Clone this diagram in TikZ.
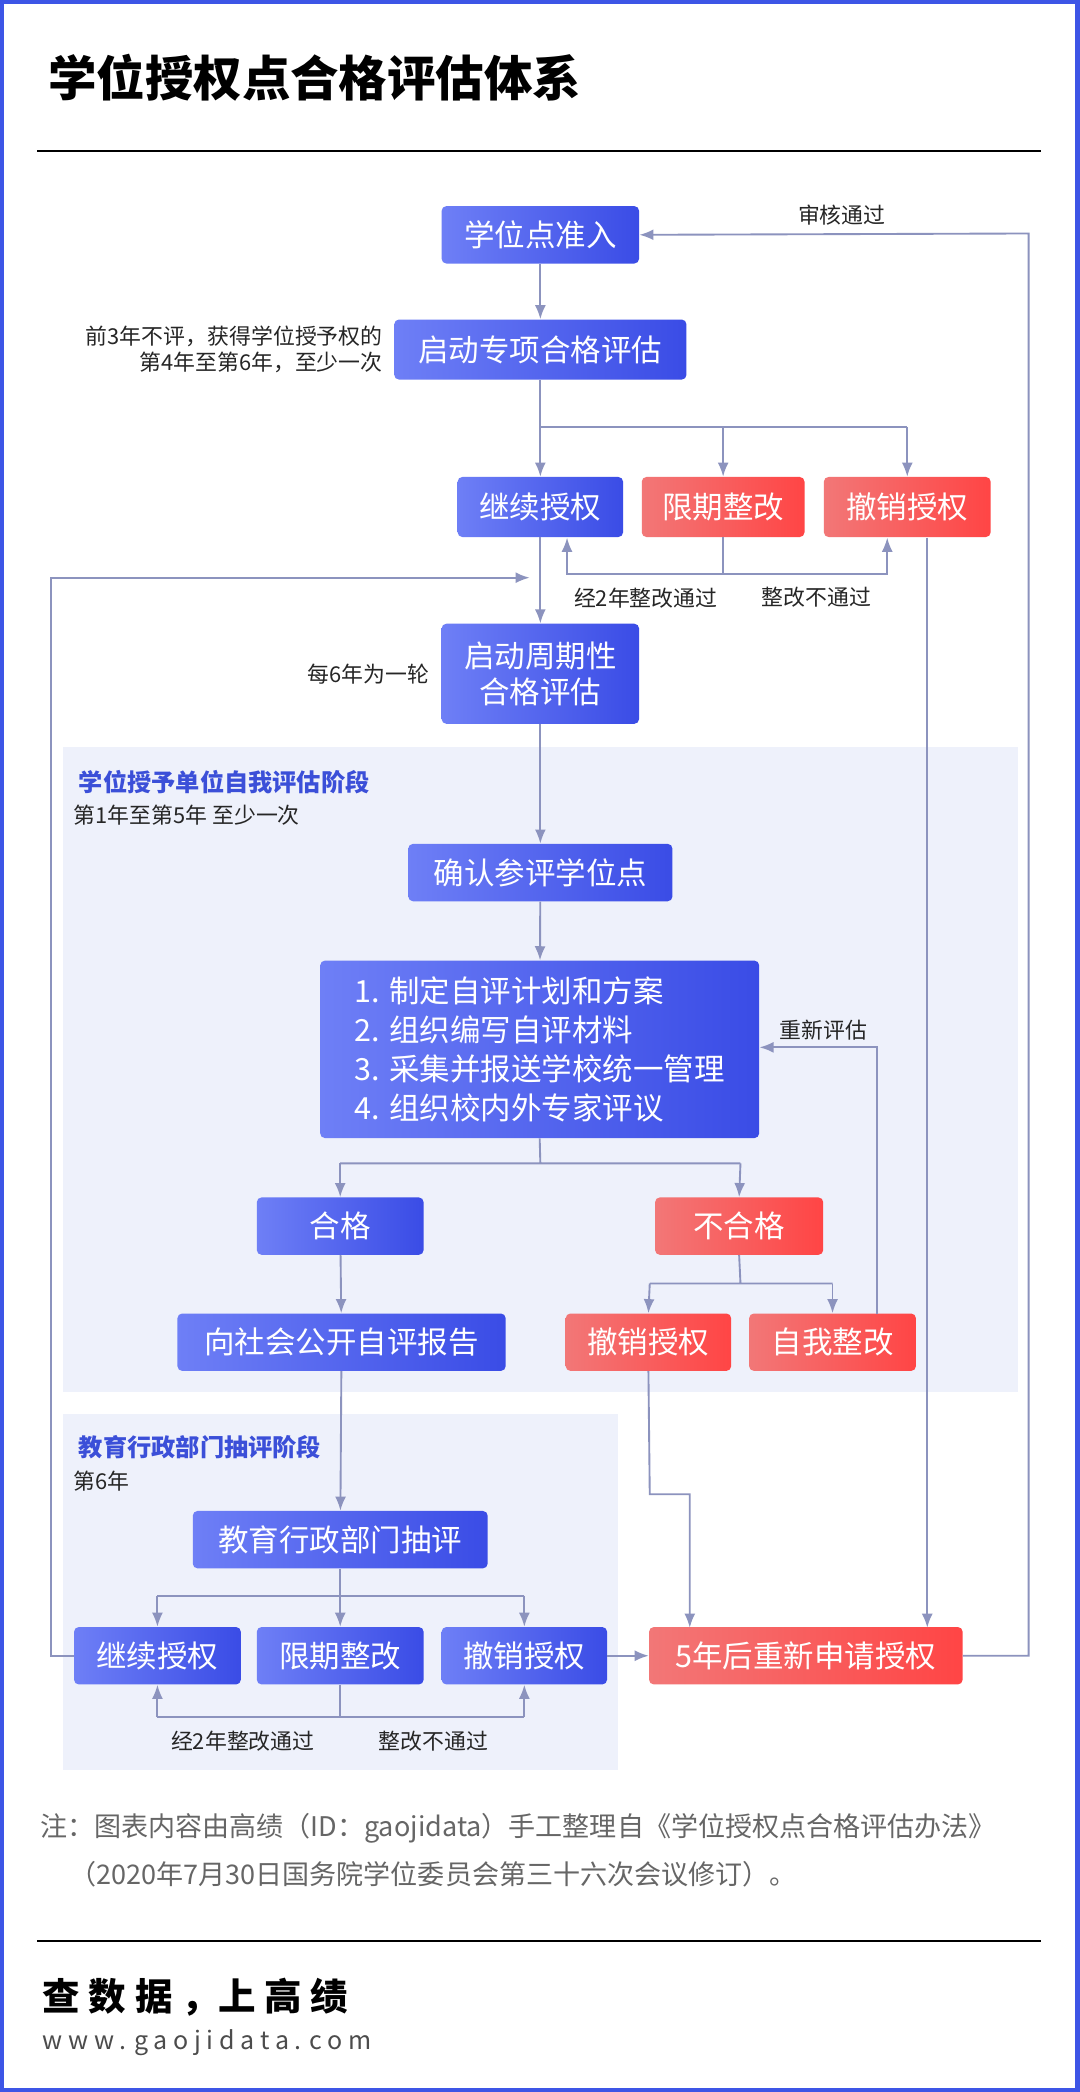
\documentclass[tikz,border=0pt]{standalone}
\usepackage{fontspec}
\setmainfont{Noto Sans CJK SC}
\usetikzlibrary{arrows.meta}
\definecolor{bl1}{HTML}{6E7FF6}\definecolor{bl2}{HTML}{3A4CE6}
\definecolor{rd1}{HTML}{F27777}\definecolor{rd2}{HTML}{FF4545}
\definecolor{ln}{HTML}{8C93BE}\definecolor{reg}{HTML}{EEF1FB}
\definecolor{frm}{HTML}{3D55E6}\definecolor{rt}{HTML}{3B4FD8}
\tikzset{
 bbox/.style={rounded corners=3pt,left color=bl1,right color=bl2,text=white,font=\fontsize{19.5}{23}\selectfont,inner sep=0pt,align=center},
 rbox/.style={rounded corners=3pt,left color=rd1,right color=rd2,text=white,font=\fontsize{19.5}{23}\selectfont,inner sep=0pt,align=center},
 ar/.style={draw=ln,line width=1.2pt,-{Latex[length=9pt,width=7pt]}},
 pl/.style={draw=ln,line width=1.2pt},
 lab/.style={font=\fontsize{14}{17}\selectfont,text=black!85,inner sep=0pt},
}
\newcommand{\bx}[7]{\node[#1,minimum width=#4*0.03cm,minimum height=#5*0.03cm] (#2) at (#3) {#6};}
\begin{document}
\begin{tikzpicture}[x=0.03cm,y=-0.03cm]
\useasboundingbox (0,0) rectangle (809,1568);
\fill[white] (0,0) rectangle (809,1568);
\draw[frm,line width=3pt] (1.5,1.5) rectangle (807.5,1566.5);
\node[anchor=west,font=\fontsize{31}{36}\selectfont\bfseries] (title) at (32,58) {学位授权点合格评估体系};
\draw[line width=1.5pt] (28,113) -- (780,113);
% regions
\fill[reg] (47,560) rectangle (763,1043);
\fill[reg] (47,1060) rectangle (463,1327);
\node[anchor=west,font=\fontsize{15.5}{18}\selectfont\bfseries,text=rt] (r1t) at (55,586) {学位授予单位自我评估阶段};
\node[anchor=west,lab] (r1s) at (55,611) {第1年至第5年 至少一次};
\node[anchor=west,font=\fontsize{15.5}{18}\selectfont\bfseries,text=rt] (r2t) at (55,1085) {教育行政部门抽评阶段};
\node[anchor=west,lab] (r2s) at (55,1110) {第6年};
% boxes
\bx{bbox}{a}{405,176}{148}{43}{学位点准入}{}
\bx{bbox}{b}{405,262}{219}{45}{启动专项合格评估}{}
\bx{bbox}{c1}{405,380}{124}{45}{继续授权}{}
\bx{rbox}{c2}{542,380}{122}{45}{限期整改}{}
\bx{rbox}{c3}{680,380}{125}{45}{撤销授权}{}
\bx{bbox}{d}{405,505}{148}{75}{启动周期性\\合格评估}{}
\bx{bbox}{e}{405,654}{198}{43}{确认参评学位点}{}
\node[bbox,minimum width=329*0.03cm,minimum height=133*0.03cm,align=left,font=\fontsize{19.5}{25}\selectfont] (f) at (404.5,786.5) {1. 制定自评计划和方案\\2. 组织编写自评材料\\3. 采集并报送学校统一管理\\4. 组织校内外专家评议};
\bx{bbox}{g1}{255,919}{125}{43}{合格}{}
\bx{rbox}{g2}{554,919}{126}{43}{不合格}{}
\bx{bbox}{h}{256,1006}{246}{43}{向社会公开自评报告}{}
\bx{rbox}{i1}{486,1006}{124}{43}{撤销授权}{}
\bx{rbox}{i2}{624,1006}{125}{43}{自我整改}{}
\bx{bbox}{j}{255,1154}{221}{43}{教育行政部门抽评}{}
\bx{bbox}{k1}{118,1241}{125}{43}{继续授权}{}
\bx{bbox}{k2}{255,1241}{125}{43}{限期整改}{}
\bx{bbox}{k3}{393,1241}{124}{43}{撤销授权}{}
\bx{rbox}{m}{604,1241}{235}{43}{5年后重新申请授权}{}
% labels
\node[lab,align=right,anchor=east] (l1) at (287,262) {前3年不评，获得学位授予权的\\第4年至第6年，至少一次};
\node[lab] (l2) at (484,448) {经2年整改通过};
\node[lab] (l3) at (612,448) {整改不通过};
\node[lab,anchor=east] (l4) at (322,505) {每6年为一轮};
\node[lab] (l5) at (631,161) {审核通过};
\node[lab] (l6) at (617,772) {重新评估};
\node[lab] (l7) at (182,1305) {经2年整改通过};
\node[lab] (l8) at (325,1305) {整改不通过};
% connectors
\draw[ar] (a) -- (b);
\draw[pl] (b.south) -- (405,320) -- (680,320);
\draw[ar] (405,320) -- (c1.north);
\draw[ar] (542,320) -- (c2.north);
\draw[ar] (680,320) -- (c3.north);
\draw[pl] (c2.south) -- (542,430);
\draw[ar] (542,430) -- (425,430) -- (425,403);
\draw[ar] (542,430) -- (665,430) -- (665,403);
\draw[ar] (c1) -- (d);
\draw[ar] (d) -- (e);
\draw[ar] (e) -- (f);
\draw[pl] (f.south) -- (405,872) (255,872) -- (555,872);
\draw[ar] (255,872) -- (g1.north);
\draw[ar] (555,872) -- (g2.north);
\draw[ar] (g1) -- (h);
\draw[pl] (g2.south) -- (555,962) (487,962) -- (624,962);
\draw[ar] (487,962) -- (i1.north);
\draw[ar] (624,962) -- (i2.north);
\draw[ar] (657,985) -- (657,785) -- (f.east |- 0,785);
\draw[ar] (h) -- (j);
\draw[pl] (j.south) -- (255,1196) (118,1196) -- (393,1196);
\draw[ar] (118,1196) -- (k1.north);
\draw[ar] (255,1196) -- (k2.north);
\draw[ar] (393,1196) -- (k3.north);
\draw[pl] (k2.south) -- (255,1287) (118,1287) -- (393,1287);
\draw[ar] (118,1287) -- (k1.south);
\draw[ar] (393,1287) -- (k3.south);
\draw[ar] (k3) -- (m);
\draw[ar] (i1.south) -- (487,1120) -- (517,1120) -- (517,1220);
\draw[ar] (695,403) -- (695,1220);
\draw[ar] (m.east) -- (771,1241) -- (771,175) -- (a.east);
\draw[ar] (k1.west) -- (38,1241) -- (38,433) -- (397,433);
% footer
\node[anchor=west,font=\fontsize{17.3}{20}\selectfont,text=black!60] (n1) at (26,1370) {注：图表内容由高绩（ID：gaojidata）手工整理自《学位授权点合格评估办法》};
\node[anchor=west,font=\fontsize{17.3}{20}\selectfont,text=black!60] (n2) at (48,1405) {（2020年7月30日国务院学位委员会第三十六次会议修订）。};
\draw[line width=1.5pt] (28,1455) -- (780,1455);
\node[anchor=west,font=\fontsize{24}{28}\selectfont\bfseries] (s1) at (28,1497) {查 数 据 ，上 高 绩};
\node[anchor=west,font=\fontsize{16}{19}\selectfont,text=black!70] (s2) at (28,1531) {w w w . g a o j i d a t a . c o m};
\end{tikzpicture}
\end{document}
